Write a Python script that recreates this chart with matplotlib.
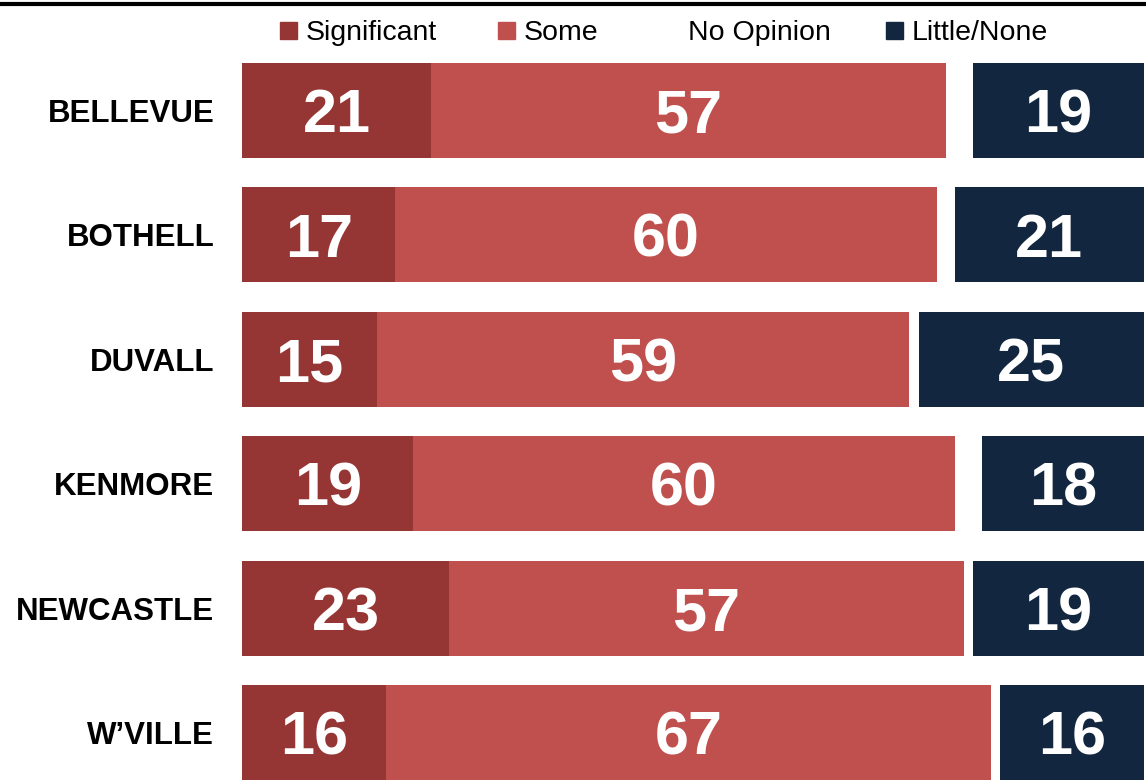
import numpy as np
import matplotlib
matplotlib.use("Agg")
import matplotlib.pyplot as plt
from matplotlib.lines import Line2D
from matplotlib.patches import Rectangle

plt.rcParams['font.family'] = ['Liberation Sans', 'DejaVu Sans']

cities = ["BELLEVUE", "BOTHELL", "DUVALL", "KENMORE", "NEWCASTLE", "W\u2019VILLE"]
significant = [21, 17, 15, 19, 23, 16]
some = [57, 60, 59, 60, 57, 67]
no_opinion = [3, 2, 1, 3, 1, 1]
little_none = [19, 21, 25, 18, 19, 16]

series = [
    ("Significant", significant, "#963634", True),
    ("Some", some, "#C0504D", True),
    ("No Opinion", no_opinion, "#FFFFFF", False),
    ("Little/None", little_none, "#12263F", True),
]

W, H = 1146, 780
fig = plt.figure(figsize=(W / 100, H / 100), dpi=100)
ax = fig.add_axes([242 / W, 0, (1144 - 242) / W, 732 / H])

y = np.arange(len(cities))
left = np.zeros(len(cities))
for name, vals, color, show in series:
    vals = np.array(vals, dtype=float)
    ax.barh(y, vals, left=left, height=0.764, color=color, label=name)
    if show:
        for yi, l, v in zip(y, left, vals):
            ax.text(l + v / 2, yi, f"{int(v)}", ha="center", va="center_baseline",
                    color="white", fontsize=44, fontweight="bold")
    left += vals

ax.set_xlim(0, 100)
ax.set_ylim(5.382, -0.502)
ax.set_yticks(y)
ax.set_yticklabels(cities, fontsize=22.5, fontweight="bold")
ax.tick_params(axis="y", length=0, pad=20)
ax.set_xticks([])
for s in ax.spines.values():
    s.set_visible(False)

# legend laid out by hand to match the original spacing
legend_x = [280, 498, 662, 886]
for (name, _, color, _), lx in zip(series, legend_x):
    fig.add_artist(Rectangle((lx / W, 1 - 39 / H), 17 / W, 17 / H, color=color,
                             transform=fig.transFigure))
    fig.text((lx + 26) / W, 1 - 30 / H, name, ha="left", va="center_baseline",
             fontsize=20.5)

fig.add_artist(Line2D([0, 1], [1 - 3.5 / H, 1 - 3.5 / H], color="black", lw=3,
                      transform=fig.transFigure))

fig.savefig("out.png", dpi=100)
